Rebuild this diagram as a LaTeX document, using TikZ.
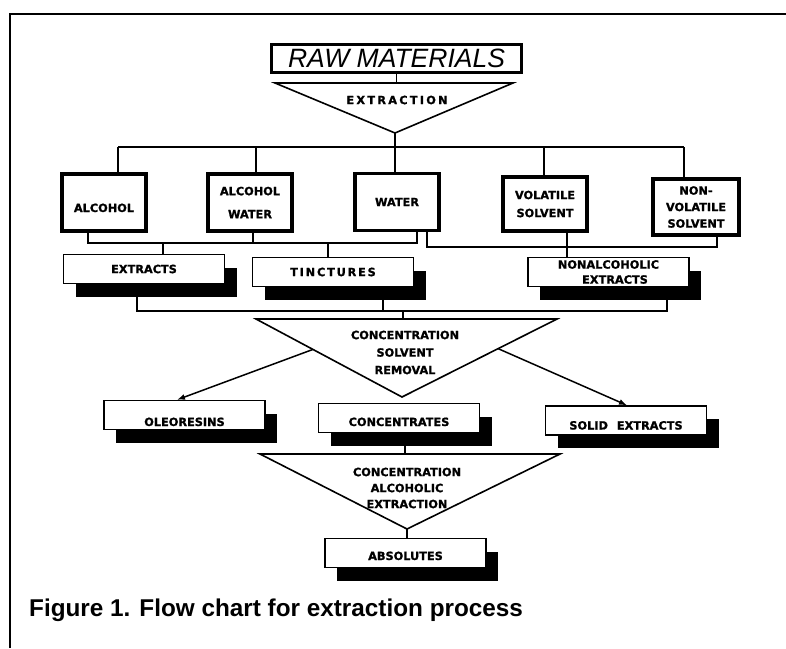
\documentclass[tikz,border=0pt]{standalone}
\usepackage{fontspec}
\setmainfont{Liberation Sans}
\newfontfamily\lblfam{DejaVu Sans}[BoldFeatures={FakeBold=1.2}]
\newcommand\boxfnt[1]{\lblfam\bfseries\fontsize{11.3}{#1}\selectfont}
\usetikzlibrary{calc,shadows,arrows.meta}
\tikzset{
  lab/.style={font=\boxfnt{16}, align=center, inner sep=0pt},
  solvbox/.style={lab, draw, line width=3.4pt, minimum width=84pt, minimum height=57pt},
  prodbox/.style={lab, draw, line width=1.4pt, fill=white, minimum width=161pt, minimum height=29pt,
    drop shadow={shadow xshift=12pt, shadow yshift=-13pt, fill=black, opacity=1}},
  conn/.style={line width=1.5pt},
  tri/.style={draw, line width=1.6pt, line join=miter},
  arr/.style={conn, -{Latex[length=8pt,width=6pt]}}
}
\begin{document}
\begin{tikzpicture}[x=1pt,y=-1pt]
\useasboundingbox (0,0) rectangle (786,648);
% frame
\coordinate (fbl) at (10,648);
\coordinate (ftl) at (10,14);
\coordinate (ftr) at (786,14);
\draw[line width=1.5pt] (fbl) -- (ftl) -- (ftr);

% raw materials
\node[draw, line width=3pt, minimum width=250pt, minimum height=28pt, inner sep=0pt,
      font=\itshape\fontsize{26.5}{30}\selectfont] (raw) at (396.5,58) {RAW MATERIALS};

% triangle 1
\coordinate (t1l) at (275,83);
\coordinate (t1r) at (513,83);
\coordinate (t1a) at (395,133);
\draw[tri] (t1l) -- (t1r) -- (t1a) -- cycle;
\node[lab, font=\boxfnt{13}\addfontfeature{LetterSpace=20}] (t1lab) at (397,100) {EXTRACTION};
\draw[conn] (raw.south) -- (raw.south |- t1l);

% solvent boxes
\node[solvbox, text height=19pt, text depth=0pt] (alc) at (104,202.5) {ALCOHOL};
\node[solvbox, font=\boxfnt{23}] (alcw) at (250,202.5) {ALCOHOL\\WATER};
\node[solvbox] (wat) at (397,202) {WATER};
\node[solvbox, minimum height=54pt, font=\boxfnt{18}] (vol) at (545,204) {VOLATILE\\SOLVENT};
\node[solvbox, minimum width=86pt, minimum height=56pt, font=\boxfnt{16.5}] (nvol) at (696,207) {NON-\\VOLATILE\\SOLVENT};

% top bus
\coordinate (bus) at (395,147);
\coordinate (dA) at ($(alc.north)+(14,0)$);
\coordinate (dB) at ($(alcw.north)+(6,0)$);
\coordinate (dC) at ($(wat.north)+(-2,0)$);
\coordinate (dD) at ($(vol.north)+(-1,0)$);
\coordinate (dE) at ($(nvol.north)+(-12,0)$);
\draw[conn] (t1a) -- (t1a |- bus);
\draw[conn] (dA |- bus) -- (dE |- bus);
\draw[conn] (dA |- bus) -- (dA);
\draw[conn] (dB |- bus) -- (dB);
\draw[conn] (dC |- bus) -- (dC);
\draw[conn] (dD |- bus) -- (dD);
\draw[conn] (dE |- bus) -- (dE);

% product boxes row 1
\node[prodbox] (ext) at (144,269) {EXTRACTS};
\node[prodbox, font=\boxfnt{16}\addfontfeature{LetterSpace=16}] (tinc) at (333,272) {TINCTURES};
\node[prodbox, font=\boxfnt{15}] (nonalc) at (608.5,272) {NONALCOHOLIC\\\hspace*{13pt}EXTRACTS};

% collector A
\coordinate (busA) at (0,243);
\coordinate (uA1) at ($(alc.south)+(-16,0)$);
\coordinate (uA2) at ($(alcw.south)+(3,0)$);
\coordinate (uA3) at ($(wat.south)+(20,0)$);
\coordinate (eA1) at ($(ext.north)+(19,0)$);
\coordinate (eA2) at ($(tinc.north)+(-5,0)$);
\draw[conn] (uA1) -- (uA1 |- busA) -- (uA3 |- busA) -- (uA3);
\draw[conn] (uA2) -- (uA2 |- busA);
\draw[conn] (eA1 |- busA) -- (eA1);
\draw[conn] (eA2 |- busA) -- (eA2);

% collector B
\coordinate (busB) at (0,247);
\coordinate (uB1) at ($(wat.south)+(30,0)$);
\coordinate (uB2) at ($(nvol.south)+(21,0)$);
\coordinate (uB3) at ($(vol.south)+(22,0)$);
\draw[conn] (uB1) -- (uB1 |- busB) -- (uB2 |- busB) -- (uB2);
\draw[conn] (uB3) -- (uB3 |- nonalc.north);

% triangle 2
\coordinate (t2l) at (256,319);
\coordinate (t2r) at (557,319);
\coordinate (t2a) at (402,397);
\draw[tri] (t2l) -- (t2r) -- (t2a) -- cycle;
\node[lab, font=\boxfnt{17.5}] (t2lab) at (405,352.5) {CONCENTRATION\\SOLVENT\\REMOVAL};

% collector C
\coordinate (busC) at (0,311);
\coordinate (uC1) at ($(ext.south)+(-7,13)$);
\coordinate (uC2) at ($(tinc.south)+(50,13)$);
\coordinate (uC3) at ($(nonalc.south)+(58.5,13)$);
\coordinate (dC2) at (403,319);
\draw[conn] (uC1) -- (uC1 |- busC) -- (uC3 |- busC) -- (uC3);
\draw[conn] (uC2) -- (uC2 |- busC);
\draw[conn] (dC2 |- busC) -- (dC2);

% product boxes row 2
\node[prodbox, text height=22pt, text depth=0pt] (oleo) at (184.5,415) {OLEORESINS};
\node[prodbox, text height=16pt, text depth=0pt] (conc) at (399,418) {CONCENTRATES};
\node[prodbox, text height=18pt, text depth=0pt] (solid) at (626,420.5) {SOLID\hspace{9pt}EXTRACTS};

% arrows
\coordinate (aL) at ($(t2l)!0.39!(t2a)$);
\coordinate (aR) at ($(t2r)!0.38!(t2a)$);
\draw[arr] (aL) -- ($(oleo.north)+(-7.5,0)$);
\draw[arr] (aR) -- ($(solid.north)+(1,0)$);

% triangle 3
\coordinate (t3l) at (260,454);
\coordinate (t3r) at (560,454);
\coordinate (t3a) at (407,529);
\coordinate (dConc) at ($(conc.south)+(6,0)$);
\draw[conn] (dConc) -- (dConc |- t3l);
\draw[tri] (t3l) -- (t3r) -- (t3a) -- cycle;
\node[lab, font=\boxfnt{16}] (t3lab) at (407,488) {CONCENTRATION\\ALCOHOLIC\\EXTRACTION};

% absolutes
\node[prodbox, text height=14pt, text depth=0pt] (abs) at (405.5,553) {ABSOLUTES};
\draw[conn] (t3a) -- (t3a |- abs.north);

% caption
\node[anchor=base west, inner sep=0pt, font=\bfseries\fontsize{24.3}{28}\selectfont] (cap) at (29,616) {Figure 1. Flow chart for extraction process};
\end{tikzpicture}
\end{document}
